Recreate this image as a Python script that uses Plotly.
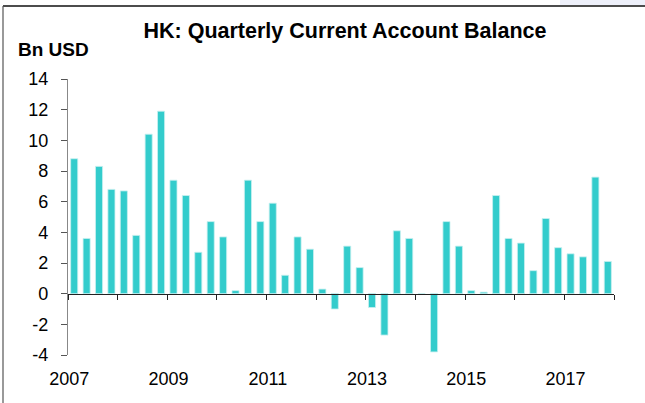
import plotly.graph_objects as go

# Quarterly data 2007Q1 - 2017Q4 (Bn USD)
years = list(range(2007, 2018))
quarters = [1, 2, 3, 4]
values = [
    8.8, 3.6, 8.3, 6.8,      # 2007
    6.7, 3.8, 10.4, 11.9,    # 2008
    7.4, 6.4, 2.7, 4.7,      # 2009
    3.7, 0.2, 7.4, 4.7,      # 2010
    5.9, 1.2, 3.7, 2.9,      # 2011
    0.3, -1.0, 3.1, 1.7,     # 2012
    -0.9, -2.7, 4.1, 3.6,    # 2013
    0.0, -3.8, 4.7, 3.1,     # 2014
    0.2, 0.1, 6.4, 3.6,      # 2015
    3.3, 1.5, 4.9, 3.0,      # 2016
    2.6, 2.4, 7.6, 2.1,      # 2017
]
x_pos = [y + (q - 0.5) / 4 for y in years for q in quarters]
y_ticks = [14, 12, 10, 8, 6, 4, 2, 0, -2, -4]
x_label_years = [2007, 2009, 2011, 2013, 2015, 2017]
y_min, y_max = -4, 14

W, H = 645, 403
ml, mr, mt, mb = 68, 31, 79, 48
pw, ph = W - ml - mr, H - mt - mb

def px_to_paper_x(px):
    return (px - ml) / pw

def px_to_paper_y(py):
    return 1 - (py - mt) / ph

fig = go.Figure()
fig.add_trace(go.Bar(
    x=x_pos, y=values,
    marker=dict(color="#33CCCC", line=dict(color="#C8F0F0", width=0.8)),
    xaxis="x", yaxis="y", hoverinfo="x+y",
))
# dummy trace on xaxis2 so its labels render
fig.add_trace(go.Scatter(x=[2007, 2018], y=[None, None], xaxis="x2", yaxis="y",
                         mode="markers", showlegend=False, hoverinfo="skip"))

zero_pos = (0 - y_min) / (y_max - y_min)

fig.update_layout(
    width=W, height=H,
    margin=dict(l=ml, r=mr, t=mt, b=mb, autoexpand=False),
    paper_bgcolor="white", plot_bgcolor="white",
    showlegend=False, bargap=0.43,
    font=dict(family="Liberation Sans, Arial, sans-serif", color="black"),
    xaxis=dict(
        range=[2007, 2018], tick0=2007, dtick=1, tickmode="linear",
        showticklabels=False, showgrid=False, zeroline=False,
        showline=True, linecolor="#222222", linewidth=1.2,
        ticks="outside", ticklen=5, tickcolor="#222222", tickwidth=1.2,
        anchor="free", position=zero_pos, automargin=False,
    ),
    xaxis2=dict(
        range=[2006.975, 2017.975], overlaying="x", side="bottom", anchor="y",
        tickmode="array", tickvals=x_label_years,
        ticktext=[str(y) for y in x_label_years],
        showgrid=False, zeroline=False, showline=False, ticks="",
        tickfont=dict(size=18, color="black"), automargin=False,
        ticklabelstandoff=11,
    ),
    yaxis=dict(
        range=[y_min, y_max], tickmode="array", tickvals=y_ticks,
        ticktext=[str(v) for v in y_ticks],
        showgrid=False, zeroline=False,
        showline=True, linecolor="#888888", linewidth=1.2,
        ticks="outside", ticklen=6, tickcolor="#555555", tickwidth=1,
        tickfont=dict(size=18, color="black"), automargin=False,
        ticklabelstandoff=9,
    ),
    title=dict(
        text="<b>HK: Quarterly Current Account Balance</b>",
        x=345 / W, xanchor="center", y=1 - 30 / H, yanchor="middle",
        font=dict(size=21.5, color="black"),
    ),
    annotations=[dict(
        text="<b>Bn USD</b>", xref="paper", yref="paper",
        x=px_to_paper_x(16), y=px_to_paper_y(50),
        xanchor="left", yanchor="middle", showarrow=False,
        font=dict(size=19, color="black"),
    )],
    shapes=[
        dict(type="rect", xref="paper", yref="paper",
             x0=px_to_paper_x(560), x1=px_to_paper_x(646),
             y0=px_to_paper_y(5), y1=px_to_paper_y(-1),
             line=dict(width=0), fillcolor="#EEF0FA"),
        dict(type="line", xref="paper", yref="paper",
             x0=px_to_paper_x(3), x1=px_to_paper_x(646),
             y0=px_to_paper_y(6), y1=px_to_paper_y(6),
             line=dict(color="#111111", width=1.5)),
        dict(type="line", xref="paper", yref="paper",
             x0=px_to_paper_x(3), x1=px_to_paper_x(3),
             y0=px_to_paper_y(6), y1=px_to_paper_y(404),
             line=dict(color="#555555", width=1.2)),
    ],
)

fig.write_html(
    "out.html",
    config={"displayModeBar": False},
    post_script="document.body.style.margin='0';document.body.style.padding='0';",
)
